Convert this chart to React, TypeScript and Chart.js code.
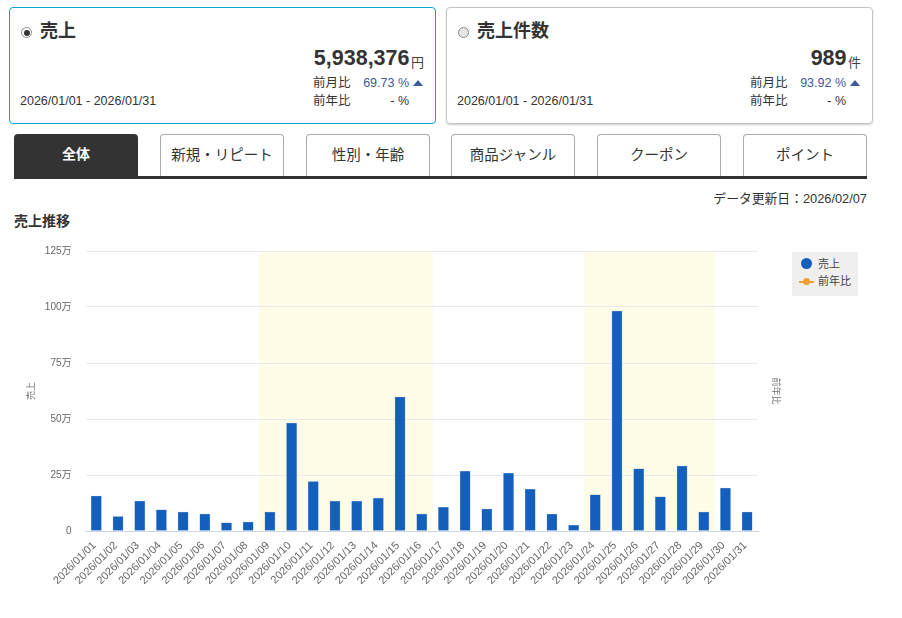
import { useEffect, useRef, type CSSProperties } from "react"
import Chart from "chart.js/auto"

const FONT = '"Liberation Sans", "Noto Sans CJK JP", sans-serif'

const categories = [
  "2026/01/01", "2026/01/02", "2026/01/03", "2026/01/04", "2026/01/05", "2026/01/06", "2026/01/07", "2026/01/08",
  "2026/01/09", "2026/01/10", "2026/01/11", "2026/01/12", "2026/01/13", "2026/01/14", "2026/01/15", "2026/01/16",
  "2026/01/17", "2026/01/18", "2026/01/19", "2026/01/20", "2026/01/21", "2026/01/22", "2026/01/23", "2026/01/24",
  "2026/01/25", "2026/01/26", "2026/01/27", "2026/01/28", "2026/01/29", "2026/01/30", "2026/01/31",
]
const salesValues = [
  156000, 64000, 134000, 94000, 85000, 76000, 36000, 40000, 85000, 482000, 221000, 132000, 132000, 146000, 598000,
  76000, 106000, 266000, 98000, 257000, 186000, 76000, 25000, 161000, 982000, 277000, 153000, 290000, 85000, 192000,
  85000,
]
// 前年比 has no data for this period, it only shows up in the legend and axis title
const yoyValues: (number | null)[] = categories.map(() => null)
const yMax = 1250000
const yStep = 250000

// first and last category of each highlighted period
const bandRanges = [
  [8, 15],
  [23, 28],
]

const tabs = ["全体", "新規・リピート", "性別・年齢", "商品ジャンル", "クーポン", "ポイント"]
const tabLefts = [14, 160, 306, 451, 597, 743]

const bandPlugin = {
  id: "bands",
  beforeDraw(chart: any) {
    const { ctx, chartArea, scales } = chart
    const half = (scales.x.getPixelForValue(1) - scales.x.getPixelForValue(0)) / 2
    ctx.save()
    ctx.fillStyle = "#fffce8"
    bandRanges.forEach(([from, to]) => {
      const left = scales.x.getPixelForValue(from) - half
      const right = scales.x.getPixelForValue(to) + half
      ctx.fillRect(left, chartArea.top + 1, right - left, chartArea.height - 1)
    })
    ctx.restore()
  },
}

function Text({ style, children }: { style: CSSProperties; children: React.ReactNode }) {
  return <div style={{ position: "absolute", whiteSpace: "nowrap", lineHeight: 1, ...style }}>{children}</div>
}

function Radio({ left, checked }: { left: number; checked: boolean }) {
  return (
    <div
      style={{
        position: "absolute",
        left,
        top: 27,
        width: 11,
        height: 11,
        boxSizing: "border-box",
        borderRadius: "50%",
        border: "1px solid #8a8a8a",
        background: checked ? "#fff" : "#e4e4e4",
      }}
    >
      {checked && (
        <div style={{ position: "absolute", left: 1.5, top: 1.5, width: 6, height: 6, borderRadius: "50%", background: "#333" }} />
      )}
    </div>
  )
}

function Card(props: {
  left: number
  accent: boolean
  title: string
  value: string
  unit: string
  mom: string
}) {
  const { left, accent, title, value, unit, mom } = props
  const at = (x: number) => left + x
  return (
    <>
      <div
        style={{
          position: "absolute",
          left,
          top: 7,
          width: 427,
          height: 117,
          boxSizing: "border-box",
          borderRadius: 4,
          border: accent ? "1px solid #0aa0dc" : "1px solid #c4c4c4",
          boxShadow: accent ? "none" : "0 1px 2px rgba(0,0,0,0.2)",
        }}
      />
      <Radio left={at(12)} checked={accent} />
      <Text style={{ left: at(31), top: 22, fontSize: 18, fontWeight: 700, color: "#333" }}>{title}</Text>
      <Text style={{ right: 902 - at(400.5), top: 48, fontSize: 21.5, fontWeight: 700, color: "#333" }}>{value}</Text>
      <Text style={{ right: 902 - at(415), top: 56, fontSize: 13, color: "#444" }}>{unit}</Text>
      <Text style={{ left: at(304), top: 77, fontSize: 12.5, color: "#333" }}>前月比</Text>
      <Text style={{ right: 902 - at(400), top: 77, fontSize: 12.5, color: "#3c5a9a" }}>{mom} %</Text>
      <div
        style={{
          position: "absolute",
          left: at(404),
          top: 80,
          width: 0,
          height: 0,
          borderLeft: "5.5px solid transparent",
          borderRight: "5.5px solid transparent",
          borderBottom: "6px solid #3c5a9a",
        }}
      />
      <Text style={{ left: at(304), top: 95, fontSize: 12.5, color: "#333" }}>前年比</Text>
      <Text style={{ right: 902 - at(400), top: 95, fontSize: 12.5, color: "#333" }}>- %</Text>
      <Text style={{ left: at(11), top: 95, fontSize: 12.5, color: "#333" }}>2026/01/01 - 2026/01/31</Text>
    </>
  )
}

export default function App() {
  const chartRef = useRef<HTMLCanvasElement>(null)

  useEffect(() => {
    if (!chartRef.current) return
    const chart = new Chart(chartRef.current, {
      type: "bar",
      data: {
        labels: categories,
        datasets: [
          {
            label: "売上",
            data: salesValues,
            backgroundColor: "#135fbc",
            borderColor: "#6f9bd8",
            borderWidth: 0.5,
            barThickness: 10,
            yAxisID: "y",
          },
          {
            type: "line",
            label: "前年比",
            data: yoyValues,
            borderColor: "#f0a030",
            backgroundColor: "#f0a030",
            yAxisID: "y1",
          },
        ],
      },
      options: {
        animation: false,
        responsive: false,
        layout: { padding: { top: 21 } },
        plugins: { legend: { display: false }, tooltip: { enabled: false } },
        font: { family: FONT },
        scales: {
          x: {
            grid: { display: false },
            border: { color: "#ccd6eb" },
            ticks: {
              autoSkip: false,
              minRotation: 45,
              maxRotation: 45,
              color: "#666",
              padding: 0,
              labelOffset: -2,
              font: { family: FONT, size: 11 },
            },
            afterFit: (scale: any) => {
              scale.height = 79
            },
          },
          y: {
            min: 0,
            max: yMax,
            ticks: {
              stepSize: yStep,
              color: "#666",
              padding: 14,
              font: { family: FONT, size: 10 },
              callback: (value: any) => (value === 0 ? "0" : value / 10000 + "万"),
            },
            grid: { color: "#e9e9e9", drawTicks: false },
            border: { display: false },
            title: { display: true, text: "売上", color: "#777", padding: { top: 26, bottom: 0 }, font: { family: FONT, size: 9 } },
            afterFit: (scale: any) => {
              scale.width = 85.5
            },
          },
          y1: {
            position: "right",
            min: 0,
            max: 100,
            grid: { display: false },
            border: { display: false },
            ticks: { display: false },
            title: { display: true, text: "前年比", color: "#777", padding: { top: 121, bottom: 0 }, font: { family: FONT, size: 9 } },
            afterFit: (scale: any) => {
              scale.width = 144
            },
          },
        },
      },
      plugins: [bandPlugin],
    } as any)

    return () => chart.destroy()
  }, [])

  return (
    <div style={{ position: "absolute", left: 0, top: 0, width: 902, height: 618, overflow: "hidden", background: "#fff", fontFamily: FONT }}>
      <Card left={9} accent title="売上" value="5,938,376" unit="円" mom="69.73" />
      <Card left={446} accent={false} title="売上件数" value="989" unit="件" mom="93.92" />

      {tabs.map((tab, i) => (
        <div
          key={tab}
          style={{
            position: "absolute",
            left: tabLefts[i],
            top: 134,
            width: 124,
            height: 43,
            boxSizing: "border-box",
            borderRadius: "4px 4px 0 0",
            border: i === 0 ? "none" : "1px solid #aaa",
            borderBottom: "none",
            background: i === 0 ? "#333" : "#fff",
            color: i === 0 ? "#fff" : "#333",
            fontSize: i === 0 ? 14 : 14.5,
            fontWeight: i === 0 ? 700 : 400,
            textAlign: "center",
            lineHeight: "41px",
          }}
        >
          {tab}
        </div>
      ))}
      <div style={{ position: "absolute", left: 14, top: 176, width: 853, height: 3, background: "#333" }} />

      <Text style={{ right: 35, top: 193, fontSize: 12.8, color: "#333" }}>データ更新日：2026/02/07</Text>
      <Text style={{ left: 14, top: 214, fontSize: 14, fontWeight: 700, color: "#333" }}>売上推移</Text>

      <canvas ref={chartRef} width={902} height={380} style={{ position: "absolute", left: 0, top: 230, width: 902, height: 380 }} aria-label="売上推移" role="img" />

      <div style={{ position: "absolute", left: 792, top: 252, width: 66, height: 44, background: "#efefef" }}>
        <div style={{ position: "absolute", left: 9, top: 6, width: 11, height: 11, borderRadius: "50%", background: "#135fbc" }} />
        <Text style={{ left: 26, top: 6.5, fontSize: 11, color: "#444" }}>売上</Text>
        <div style={{ position: "absolute", left: 7, top: 28.5, width: 15, height: 2, background: "#f0a030" }} />
        <div style={{ position: "absolute", left: 11, top: 26, width: 7, height: 7, borderRadius: "50%", background: "#f0a030" }} />
        <Text style={{ left: 26, top: 24, fontSize: 11, color: "#444" }}>前年比</Text>
      </div>
    </div>
  )
}
